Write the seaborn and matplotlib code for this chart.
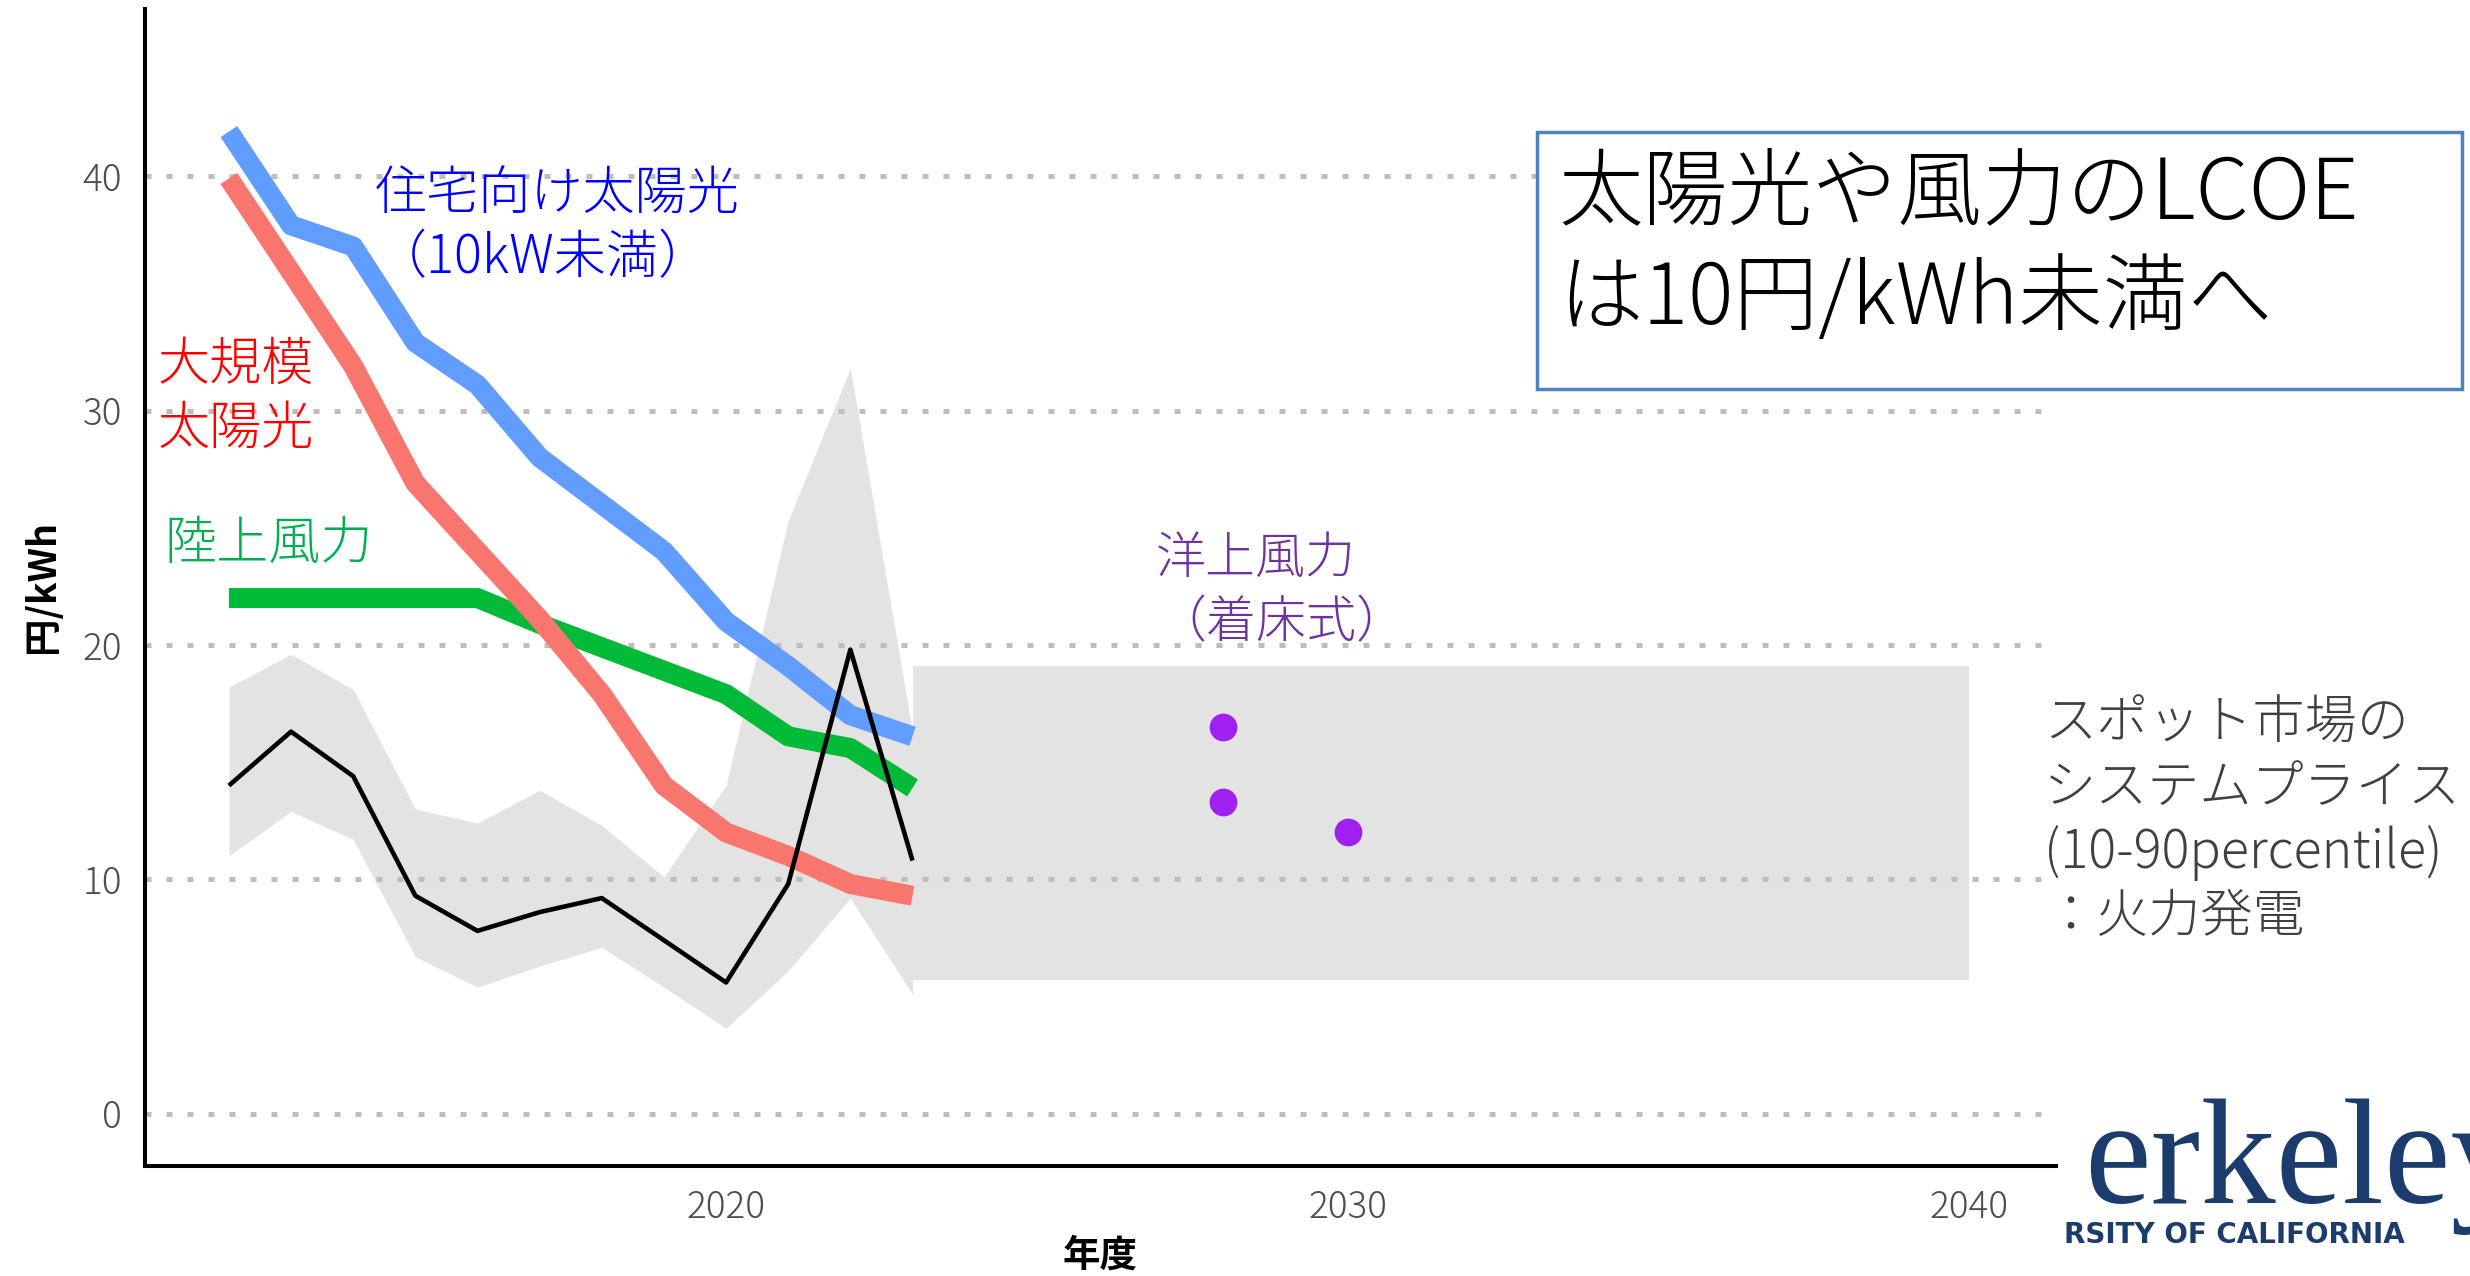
import matplotlib
matplotlib.use("Agg")
import matplotlib.pyplot as plt
from matplotlib.patches import Rectangle
import pandas as pd
import seaborn as sns

# ---- data (円/kWh) ----
years = [2012, 2013, 2014, 2015, 2016, 2017, 2018, 2019, 2020, 2021, 2022, 2023]
residential_pv = [41.9, 37.9, 37.0, 32.9, 31.1, 28.0, 26.0, 24.0, 21.0, 19.1, 17.0, 16.1]
utility_pv = [39.9, 35.9, 31.9, 26.9, 24.0, 21.1, 17.9, 14.0, 12.0, 11.0, 9.8, 9.3]
onshore_wind = [22.0, 22.0, 22.0, 22.0, 22.0, 20.9, 19.9, 18.9, 17.9, 16.1, 15.6, 13.9]
spot_mean = [14.0, 16.3, 14.4, 9.3, 7.8, 8.6, 9.2, 7.4, 5.6, 9.8, 19.8, 10.8]
spot_p10 = [11.0, 12.9, 11.7, 6.7, 5.4, 6.3, 7.1, 5.4, 3.65, 6.1, 9.2, 5.1]
spot_p90 = [18.2, 19.6, 18.1, 13.0, 12.4, 13.8, 12.3, 10.1, 14.0, 25.3, 31.8, 16.3]
outlook_years = [2023, 2040]
outlook_low = [5.7, 5.7]
outlook_high = [19.1, 19.1]
offshore_years = [2028, 2028, 2030]
offshore_cost = [16.5, 13.3, 12.0]
y_ticks = [0, 10, 20, 30, 40]
x_ticks = [2020, 2030, 2040]

series_names = ["陸上風力", "大規模太陽光", "住宅向け太陽光"]
series_colors = {"陸上風力": "#00BA38", "大規模太陽光": "#F8766D", "住宅向け太陽光": "#619CFF"}

lcoe = pd.DataFrame({
    "年度": years * 3,
    "円/kWh": onshore_wind + utility_pv + residential_pv,
    "電源": [series_names[0]] * len(years) + [series_names[1]] * len(years)
            + [series_names[2]] * len(years),
})

sns.set_theme(style="white")
plt.rcParams["font.family"] = ["Noto Sans CJK JP", "DejaVu Sans"]

W, H = 2470, 1276
fig = plt.figure(figsize=(W / 100, H / 100), dpi=100, facecolor="white")
ax = fig.add_axes([145 / W, 1 - 1166 / H, (2056 - 145) / W, (1166 - 9) / H])

band = "#E3E3E3"
ax.fill_between(years, spot_p10, spot_p90, color=band, lw=0, zorder=1)
ax.fill_between(outlook_years, outlook_low, outlook_high, color=band, lw=0, zorder=1)

sns.lineplot(data=lcoe, x="年度", y="円/kWh", hue="電源", hue_order=series_names,
             palette=series_colors, linewidth=14.4, legend=False, errorbar=None,
             solid_capstyle="butt", solid_joinstyle="round", ax=ax, zorder=3)
sns.lineplot(x=years, y=spot_mean, color="black", linewidth=3.3,
             solid_capstyle="butt", ax=ax, zorder=4)
sns.scatterplot(x=offshore_years, y=offshore_cost, color="#A020F0", s=400,
                linewidth=0, ax=ax, zorder=5)

ax.set_xlim(2010.65, 2041.4)
ax.set_ylim(-2.23, 47.13)
ax.set_xticks(x_ticks)
ax.set_yticks(y_ticks)
ax.set_xlabel("")
ax.set_ylabel("")
ax.set_axisbelow("line")
ax.yaxis.grid(True, color="#BDBDBD", linestyle=(0, (1.2, 3.0)), linewidth=3.6)
ax.xaxis.grid(False)
for side in ("top", "right"):
    ax.spines[side].set_visible(False)
for side in ("left", "bottom"):
    ax.spines[side].set_color("black")
    ax.spines[side].set_linewidth(2.9)
ax.tick_params(axis="both", length=8.5, width=2.4, color="#333333",
               labelsize=26.5, labelcolor="#4D4D4D", pad=8)
for lab in ax.get_xticklabels() + ax.get_yticklabels():
    lab.set_fontweight("light")
ax.set_facecolor("white")

# axis titles
fig.text(43 / W, 1 - 586 / H, "円/kWh", rotation=90, ha="center", va="center",
         fontsize=27, fontweight="bold", color="black")
fig.text(1100 / W, 1 - 1255 / H, "年度", ha="center", va="center",
         fontsize=27, fontweight="bold", color="black")

# series labels
label_kw = dict(ha="left", va="baseline", fontsize=37.5, fontweight="light", clip_on=False)
ax.text(2014.35, 38.59, "住宅向け太陽光", color="#0000FF", **label_kw)
ax.text(2014.35, 35.86, "（10kW未満）", color="#0000FF", **label_kw)
ax.text(2010.86, 31.30, "大規模", color="#FF0000", **label_kw)
ax.text(2010.86, 28.57, "太陽光", color="#FF0000", **label_kw)
ax.text(2010.97, 23.67, "陸上風力", color="#00B050", **label_kw)
ax.text(2026.92, 23.07, "洋上風力", color="#7030A0", **{**label_kw, "fontsize": 36})
ax.text(2026.92, 20.34, "（着床式）", color="#7030A0", **{**label_kw, "fontsize": 36})
for yy, line in zip([15.98, 13.25, 10.48, 7.75],
                    ["スポット市場の", "システムプライス", "(10-90percentile)", "：火力発電"]):
    ax.text(2041.21, yy, line, color="#404040", **label_kw)

# call-out box
fig.patches.append(Rectangle((1537 / W, 1 - 389 / H), (2462 - 1537) / W, (389 - 132) / H,
                             transform=fig.transFigure, facecolor="white",
                             edgecolor="#4F81BD", linewidth=2.5, zorder=10))
fig.text(1558 / W, 1 - 218 / H, "太陽光や風力のLCOE", ha="left", va="baseline",
         fontsize=61, fontweight="light", color="black", zorder=11)
fig.text(1558 / W, 1 - 324 / H, "は10円/kWh未満へ", ha="left", va="baseline",
         fontsize=61, fontweight="light", color="black", zorder=11)

# university wordmark (cropped on both sides)
navy = "#1D3C6E"
fig.text(2084 / W, 1 - 1203 / H, "erkeley", ha="left", va="baseline",
         fontsize=108, family="Liberation Serif", color=navy)
fig.text(2405 / W, 1 - 1243 / H, "RSITY OF CALIFORNIA", ha="right",
         va="baseline", fontsize=20, family="DejaVu Sans", fontweight="bold", color=navy)

fig.savefig("out.png", dpi=100, facecolor="white")
